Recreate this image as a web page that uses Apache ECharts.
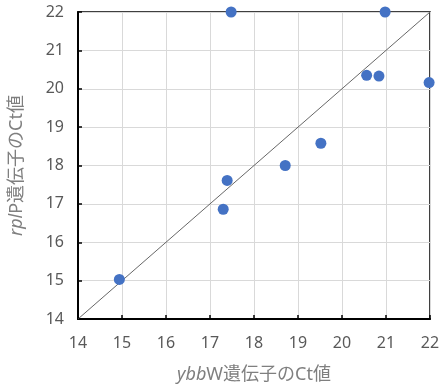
<!DOCTYPE html>
<html>
<head>
<meta charset="utf-8">
<script src="https://cdn.jsdelivr.net/npm/echarts@6/dist/echarts.min.js"></script>
<style>
  html, body { margin: 0; padding: 0; background: #fff; }
  #chart { width: 444px; height: 389px; }
</style>
</head>
<body>
<div id="chart"></div>
<script>
// データ
var ybbW = [14.94, 17.30, 17.39, 17.48, 18.71, 19.52, 20.56, 20.84, 20.98, 21.98];
var rplP = [15.03, 16.86, 17.61, 22.00, 18.00, 18.58, 20.35, 20.33, 22.00, 20.16];
var diagX = [14, 22];
var diagY = [14, 22];

var chart = echarts.init(document.getElementById('chart'));

var points = ybbW.map(function (x, i) { return [x, rplP[i]]; });
var diag = diagX.map(function (x, i) { return [x, diagY[i]]; });

var font = '"Noto Sans", "Noto Sans CJK JP", sans-serif';
var nameRich = {
    i: { fontStyle: 'italic', fontSize: 18, color: '#7f7f7f', fontFamily: font },
    n: { fontSize: 18, color: '#7f7f7f', fontFamily: font }
};

var option = {
    animation: false,
    grid: {
        left: 78, right: 14, top: 12, bottom: 69,
        show: true, borderColor: '#000', borderWidth: 1.5
    },
    xAxis: {
        type: 'value', min: 14, max: 22, interval: 1,
        name: '{i|ybb}{n|W遺伝子のCt値}',
        nameLocation: 'middle', nameGap: 47,
        nameTextStyle: { rich: nameRich },
        axisLine: { lineStyle: { color: '#000', width: 2 } },
        axisTick: { inside: true, length: 4, lineStyle: { color: '#000', width: 1.5 } },
        axisLabel: { color: '#595959', fontSize: 16, margin: 16, fontFamily: font },
        splitLine: { lineStyle: { color: '#d9d9d9', width: 1 } }
    },
    yAxis: {
        type: 'value', min: 14, max: 22, interval: 1,
        name: '{i|rpl}{n|P遺伝子のCt値}',
        nameLocation: 'middle', nameGap: 52,
        nameTextStyle: { rich: nameRich },
        axisLine: { lineStyle: { color: '#000', width: 2 } },
        axisTick: { inside: true, length: 4, lineStyle: { color: '#000', width: 1.5 } },
        axisLabel: { color: '#595959', fontSize: 16, margin: 14, fontFamily: font },
        splitLine: { lineStyle: { color: '#d9d9d9', width: 1 } }
    },
    series: [
        {
            type: 'line',
            data: diag,
            symbol: 'none',
            lineStyle: { color: '#404040', width: 0.8 },
            z: 1
        },
        {
            type: 'scatter',
            data: points,
            symbolSize: 11,
            clip: false,
            itemStyle: { color: '#4472C4', opacity: 1 },
            z: 3
        }
    ]
};

chart.setOption(option);
</script>
</body>
</html>
